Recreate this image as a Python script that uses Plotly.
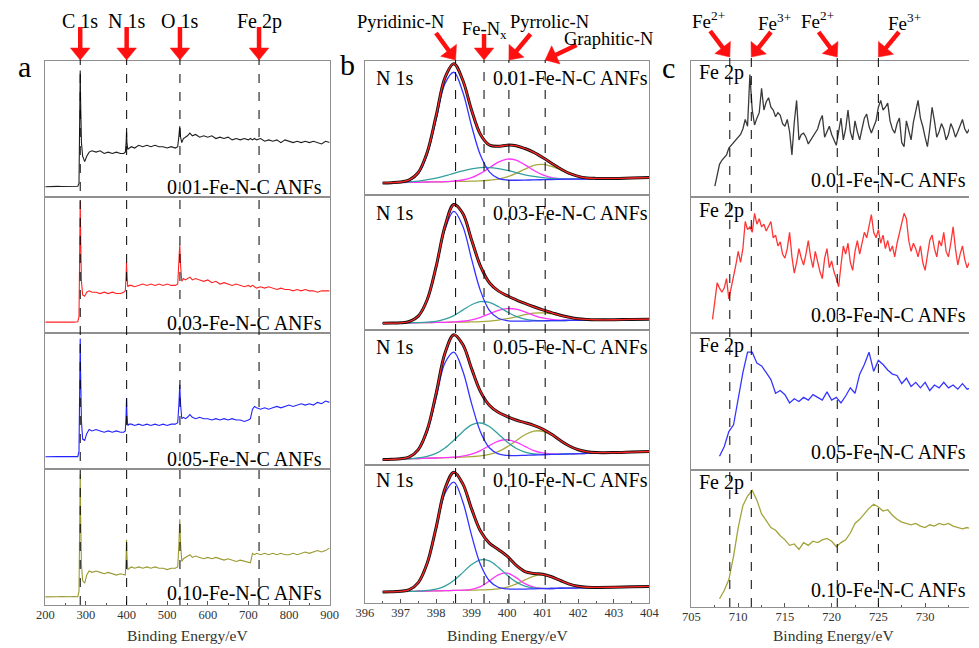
import math
import plotly.graph_objects as go

W, H = 979, 648
SERIF = "Liberation Serif, Times New Roman, serif"

# ---------------- survey spectra (panel a) ----------------
survey_be = [200, 210, 220, 230, 240, 250, 260, 270, 280,
             283, 285, 286, 287, 289, 292, 297, 302, 308, 315,
             325, 335, 345, 355, 365, 375, 385, 393, 397,
             399, 400, 401, 403, 407, 412, 420, 430, 440, 450, 460, 470, 480, 490, 500, 510, 520, 526, 529,
             531, 533, 536, 540, 545, 550, 556, 562, 570, 580, 590, 600,
             610, 620, 630, 640, 650, 660, 670, 680, 690, 700,
             705, 710, 715, 720, 730, 740, 750, 760, 770, 780, 790, 800,
             810, 820, 830, 840, 850, 860, 870, 880, 890, 900]
survey_001 = [.075, .077, .076, .078, .077, .078, .076, .078, .079,
              .10, .50, .93, .70, .40, .30, .26, .30, .33, .34,
              .33, .34, .32, .33, .32, .33, .32, .32, .33,
              .40, .48, .40, .35, .36, .37, .36, .38, .37, .38, .37, .38, .37, .37, .36, .37, .36, .37, .45,
              .52, .44, .40, .43, .44, .45, .47, .45, .46, .44, .45, .44,
              .45, .43, .44, .43, .44, .42, .43, .42, .43, .42,
              .43, .42, .43, .42, .43, .41, .42, .41, .42, .40, .42, .41,
              .40, .41, .40, .41, .40, .41, .40, .39, .41, .40]
survey_003 = [.080, .082, .080, .081, .080, .082, .081, .080, .082,
              .12, .55, .97, .72, .38, .28, .27, .30, .31, .30,
              .30, .29, .30, .29, .30, .29, .29, .30, .31,
              .42, .52, .42, .34, .35, .35, .34, .35, .36, .35, .36, .35, .36, .35, .36, .35, .35, .36, .50,
              .65, .50, .38, .40, .39, .40, .41, .39, .40, .39, .38, .39,
              .37, .38, .36, .37, .36, .35, .36, .35, .34, .35,
              .34, .35, .34, .33, .34, .33, .34, .33, .32, .33, .32, .32,
              .31, .32, .31, .32, .31, .31, .30, .31, .31, .31]
survey_005 = [.090, .092, .090, .091, .092, .090, .091, .092, .091,
              .13, .55, .96, .70, .35, .22, .21, .26, .29, .28,
              .29, .28, .27, .28, .27, .28, .27, .27, .28,
              .40, .52, .40, .32, .33, .33, .32, .33, .32, .33, .32, .33, .32, .33, .32, .33, .33, .34, .48,
              .62, .48, .37, .38, .37, .38, .40, .38, .37, .38, .37, .37,
              .36, .37, .36, .37, .36, .37, .36, .36, .35, .36,
              .37, .44, .46, .45, .44, .45, .44, .45, .46, .45, .46, .47,
              .46, .47, .48, .47, .48, .47, .49, .48, .50, .49]
survey_010 = [.060, .062, .060, .061, .062, .060, .061, .062, .061,
              .10, .55, .96, .65, .30, .18, .16, .22, .25, .24,
              .25, .24, .23, .24, .23, .22, .23, .22, .22,
              .36, .48, .36, .26, .27, .28, .27, .28, .27, .28, .27, .28, .27, .27, .26, .27, .27, .28, .45,
              .63, .45, .32, .34, .35, .36, .37, .35, .36, .35, .34, .35,
              .34, .35, .34, .33, .34, .33, .32, .33, .32, .31,
              .31, .38, .37, .38, .37, .38, .37, .38, .37, .38, .37, .37,
              .38, .37, .38, .39, .38, .39, .40, .39, .40, .42]
survey_peak_names = ["C 1s", "N 1s", "O 1s", "Fe 2p"]
survey_peak_be = [286.0, 400.3, 531.5, 726.2]

# ---------------- N 1s fits (panel b): background + net component heights ----------------
n1s_be = [396.5, 396.75, 397.0, 397.25, 397.5, 397.75, 398.0, 398.25, 398.5, 398.75, 399.0, 399.25,
          399.5, 399.75, 400.0, 400.25, 400.5, 400.75, 401.0, 401.25, 401.5, 401.75, 402.0, 402.25,
          402.5, 403.0, 403.5, 404.0]

n1s_bg_001 = [.090, .091, .093, .094, .095, .097, .098, .099, .101, .102, .103, .105, .106, .107, .109, .110,
              .111, .113, .114, .115, .117, .118, .119, .120, .122, .124, .127, .130]
n1s_pyridinic_001 = [0, 0, .002, .014, .064, .204, .462, .732, .815, .668, .412, .191, .067, .017, .003,
                     0, 0, 0, 0, 0, 0, 0, 0, 0, 0, 0, 0, 0]
n1s_fenx_001 = [0, .001, .002, .005, .009, .017, .028, .043, .061, .078, .092, .099, .099, .090, .075, .057,
                .040, .026, .015, .008, .004, .002, .001, 0, 0, 0, 0, 0]
n1s_pyrrolic_001 = [0, 0, 0, 0, 0, 0, 0, .001, .003, .010, .026, .056, .097, .138, .159, .150, .114, .071,
                    .036, .015, .005, .001, 0, 0, 0, 0, 0, 0]
n1s_graphitic_001 = [0, 0, 0, 0, 0, 0, 0, 0, 0, 0, 0, .001, .004, .011, .026, .051, .082, .108, .115, .099,
                     .070, .040, .019, .007, .002, 0, 0, 0]

n1s_bg_003 = [.050, .051, .052, .053, .054, .055, .056, .057, .058, .059, .060, .061, .062, .063, .064, .065,
              .066, .067, .068, .069, .070, .071, .072, .073, .074, .076, .078, .080]
n1s_pyridinic_003 = [0, 0, .001, .010, .048, .166, .403, .687, .820, .712, .465, .229, .084, .024, .005, .001,
                     0, 0, 0, 0, 0, 0, 0, 0, 0, 0, 0, 0]
n1s_fenx_003 = [0, 0, 0, 0, .001, .003, .008, .023, .049, .088, .127, .149, .142, .111, .070, .036, .015, .005,
                .001, 0, 0, 0, 0, 0, 0, 0, 0, 0]
n1s_pyrrolic_003 = [0, 0, 0, 0, 0, 0, 0, 0, .002, .006, .015, .033, .058, .082, .095, .089, .068, .042, .021,
                    .009, .003, .001, 0, 0, 0, 0, 0, 0]
n1s_graphitic_003 = [0, 0, 0, 0, 0, 0, 0, 0, 0, 0, 0, .001, .004, .010, .020, .033, .048, .058, .059, .051,
                     .036, .022, .011, .005, .002, 0, 0, 0]

n1s_bg_005 = [.040, .042, .044, .046, .048, .050, .052, .054, .056, .058, .060, .062, .064, .066, .068, .070,
              .072, .074, .076, .078, .080, .082, .084, .086, .088, .092, .096, .100]
n1s_pyridinic_005 = [0, 0, .002, .013, .061, .195, .442, .701, .780, .640, .395, .183, .064, .016, .003,
                     0, 0, 0, 0, 0, 0, 0, 0, 0, 0, 0, 0, 0]
n1s_fenx_005 = [0, 0, 0, .001, .005, .014, .034, .072, .127, .189, .237, .249, .221, .164, .103, .054, .024,
                .009, .003, .001, 0, 0, 0, 0, 0, 0, 0, 0]
n1s_pyrrolic_005 = [0, 0, 0, 0, 0, 0, 0, 0, .002, .007, .020, .045, .080, .111, .119, .100, .066, .033, .013,
                    .004, .001, 0, 0, 0, 0, 0, 0, 0]
n1s_graphitic_005 = [0, 0, 0, 0, 0, 0, 0, 0, 0, 0, .002, .005, .014, .033, .066, .109, .152, .177, .174, .144,
                     .100, .059, .029, .012, .004, 0, 0, 0]

n1s_bg_010 = [.080, .081, .083, .084, .085, .087, .088, .089, .091, .092, .093, .095, .096, .097, .099, .100,
              .101, .103, .104, .105, .107, .108, .109, .110, .112, .114, .117, .120]
n1s_pyridinic_010 = [0, 0, .002, .013, .062, .197, .445, .705, .785, .644, .397, .184, .065, .017, .003,
                     0, 0, 0, 0, 0, 0, 0, 0, 0, 0, 0, 0, 0]
n1s_fenx_010 = [0, 0, 0, 0, .001, .004, .012, .033, .072, .128, .186, .218, .209, .162, .103, .053, .022, .007,
                .002, 0, 0, 0, 0, 0, 0, 0, 0, 0]
n1s_pyrrolic_010 = [0, 0, 0, 0, 0, 0, 0, 0, 0, .001, .006, .024, .063, .107, .118, .084, .039, .012, .002,
                    0, 0, 0, 0, 0, 0, 0, 0, 0]
n1s_graphitic_010 = [0, 0, 0, 0, 0, 0, 0, 0, 0, 0, 0, 0, .001, .005, .016, .037, .066, .092, .100, .085,
                     .056, .029, .012, .004, .001, 0, 0, 0]

n1s_species = ["Pyridinic-N", "Fe-N<sub>x</sub>", "Pyrrolic-N", "Graphitic-N"]
n1s_species_be = [398.55, 399.35, 400.05, 401.07]

# ---------------- Fe 2p spectra (panel c) ----------------
fe2p_start_001, fe2p_step_001 = 707.5, 0.25
fe2p_001 = [.08, .16,
            .24, .27, .29, .31, .36, .38, .40, .42, .44, .46, .50, .57, .52, .90, .64, .53,
            .58, .62, .80, .64, .70, .73, .66, .64, .59, .62, .60, .54, .52, .57, .48, .31,
            .55, .71, .42, .46, .47, .44, .39, .42, .44, .47, .50, .56, .60, .44, .48, .52,
            .46, .42, .38, .48, .58, .42, .50, .64, .48, .42, .56, .48, .42, .50, .58, .61,
            .52, .47, .52, .56, .66, .71, .64, .66, .69, .56, .50, .47, .54, .58, .40, .37,
            .56, .50, .42, .55, .64, .71, .58, .52, .44, .37, .50, .66, .56, .44, .48, .54,
            .50, .42, .46, .54, .50, .44, .48, .52, .57, .50, .47, .50,
            .52]
fe2p_start_003, fe2p_step_003 = 707.25, 0.25
fe2p_003 = [.10, .22, .37,
            .33, .30, .33, .40, .25, .33, .42, .50, .60, .52, .62, .82, .76, .78, .74, .88,
            .80, .84, .78, .80, .75, .78, .82, .70, .72, .64, .67, .58, .55, .62, .74, .56,
            .44, .52, .62, .55, .50, .58, .68, .56, .48, .60, .52, .45, .40, .55, .62, .48,
            .53, .45, .40, .34, .50, .64, .58, .66, .52, .46, .60, .68, .58, .66, .74, .70,
            .80, .87, .74, .70, .76, .66, .72, .62, .68, .60, .64, .56, .66, .74, .80, .88,
            .84, .68, .60, .66, .62, .56, .64, .52, .46, .58, .68, .72, .62, .56, .68, .64,
            .74, .60, .56, .66, .78, .62, .50, .58, .64, .54, .48, .52,
            .56]
fe2p_start_005, fe2p_step_005 = 708.0, 0.5
fe2p_005 = [.10, .17, .28, .33, .52, .71, .86, .86, .78, .76, .71, .66, .56, .58, .55, .49, .52, .50,
            .53, .51, .55, .53, .51, .57, .51, .53, .49, .54, .60, .56, .70, .77, .86, .72, .80, .77,
            .73, .70, .69, .63, .67, .61, .64, .60, .64, .58, .62, .60, .64, .60, .62, .59, .63, .59, .60]
fe2p_start_010, fe2p_step_010 = 708.0, 0.5
fe2p_010 = [.06, .12, .20, .37, .58, .74, .81, .85, .78, .68, .63, .58, .56, .52, .49, .45, .46, .42,
            .47, .45, .48, .47, .49, .50, .48, .44, .47, .49, .54, .61, .64, .68, .72, .75, .73, .70,
            .71, .67, .64, .62, .61, .60, .61, .59, .58, .60, .59, .61, .60, .61, .59, .58, .57, .58, .57]
fe_states = ["Fe<sup>2+</sup>", "Fe<sup>3+</sup>", "Fe<sup>2+</sup>", "Fe<sup>3+</sup>"]
fe_states_be = [709.1, 711.4, 720.6, 725.0]

samples = ["0.01-Fe-N-C ANFs", "0.03-Fe-N-C ANFs", "0.05-Fe-N-C ANFs", "0.10-Fe-N-C ANFs"]

# ---------------- styling ----------------
survey_colors = ["#1e1e1e", "#ff2222", "#2222ff", "#999930"]
fe_colors = ["#3a3a3a", "#ff3535", "#3535ff", "#a3a33c"]
C_PYRI, C_FENX, C_PYRR, C_GRAPH = "#3333ff", "#33a0a0", "#ff33ff", "#a8a840"
C_FIT, C_EXP = "#ff2424", "#111111"
FRAME = "#8f8f8f"
ARROW = "#ff1010"

cols = [
    dict(x=(37, 327), rows=[(61, 197), (197, 333), (333, 469), (469, 605)], rng=[200, 900], dtick=100, minor=50),
    dict(x=(363, 653), rows=[(61, 195), (195, 330), (330, 465), (465, 603)], rng=[396, 404], dtick=1, minor=0.5),
    dict(x=(696, 979), rows=[(61, 197), (197, 333), (333, 470), (470, 607)], rng=[705, 734.7], dtick=5, minor=2.5),
]


def px(x):
    return x / W


def py(y):
    return 1 - y / H


def col_px(c, be):
    col = cols[c]
    (a, b), (r0, r1) = col["x"], col["rng"]
    return a + (be - r0) / (r1 - r0) * (b - a)


fig = go.Figure()
layout = dict(width=W, height=H, margin=dict(l=0, r=0, t=0, b=0), showlegend=False,
              paper_bgcolor="white", plot_bgcolor="white")

for c, col in enumerate(cols):
    for r, (yt, yb) in enumerate(col["rows"]):
        k = c * 4 + r + 1
        bottom = (r == 3)
        xa = dict(domain=[px(col["x"][0]), min(px(col["x"][1]), 1.0)], range=col["rng"], anchor=f"y{k}",
                  showline=True, mirror=True, linecolor=FRAME, linewidth=1.2, showgrid=False, zeroline=False,
                  showticklabels=bottom, ticks="inside" if bottom else "", ticklen=4, tickcolor="#555",
                  dtick=col["dtick"], tick0=col["rng"][0],
                  tickfont=dict(family=SERIF, size=12.5, color="#333"))
        if bottom:
            xa["minor"] = dict(ticks="inside", ticklen=2, dtick=col["minor"], tickcolor="#555")
            xa["ticklabelstandoff"] = -2
        ya = dict(domain=[py(yb), py(yt)], range=[0, 1], anchor=f"x{k}", showline=True,
                  mirror=(c != 2), linecolor=FRAME, linewidth=1.2, showgrid=False, zeroline=False,
                  showticklabels=False, ticks="")
        layout["xaxis" if k == 1 else f"xaxis{k}"] = xa
        layout["yaxis" if k == 1 else f"yaxis{k}"] = ya


def ax_names(c, r):
    k = c * 4 + r + 1
    return ("x", "y") if k == 1 else (f"x{k}", f"y{k}")


def add_line(x, y, c, r, color, width, shape="linear"):
    xn, yn = ax_names(c, r)
    fig.add_trace(go.Scatter(x=x, y=y, xaxis=xn, yaxis=yn, mode="lines", hoverinfo="skip",
                             line=dict(color=color, width=width, shape=shape)))


# panel a
for r, ys in enumerate([survey_001, survey_003, survey_005, survey_010]):
    add_line(survey_be, ys, 0, r, survey_colors[r], 1.1)

# panel b
n1s_sets = [
    (n1s_bg_001, n1s_pyridinic_001, n1s_fenx_001, n1s_pyrrolic_001, n1s_graphitic_001),
    (n1s_bg_003, n1s_pyridinic_003, n1s_fenx_003, n1s_pyrrolic_003, n1s_graphitic_003),
    (n1s_bg_005, n1s_pyridinic_005, n1s_fenx_005, n1s_pyrrolic_005, n1s_graphitic_005),
    (n1s_bg_010, n1s_pyridinic_010, n1s_fenx_010, n1s_pyrrolic_010, n1s_graphitic_010),
]
for r, (bg, pyri, fenx, pyrr, graph) in enumerate(n1s_sets):
    for comp, colr in [(graph, C_GRAPH), (pyrr, C_PYRR), (fenx, C_FENX), (pyri, C_PYRI)]:
        add_line(n1s_be, [b + v for b, v in zip(bg, comp)], 1, r, colr, 1.3, "spline")
    env = [b + a + f + p + g for b, a, f, p, g in zip(bg, pyri, fenx, pyrr, graph)]
    add_line(n1s_be, env, 1, r, C_EXP, 3.0, "spline")
    add_line(n1s_be, env, 1, r, C_FIT, 1.3, "spline")

# panel c
fe_sets = [(fe2p_start_001, fe2p_step_001, fe2p_001), (fe2p_start_003, fe2p_step_003, fe2p_003),
           (fe2p_start_005, fe2p_step_005, fe2p_005), (fe2p_start_010, fe2p_step_010, fe2p_010)]
for r, (s0, st, ys) in enumerate(fe_sets):
    xs = [s0 + st * i for i in range(len(ys))]
    add_line(xs, ys, 2, r, fe_colors[r], 1.3)

# dashed guide lines
shapes = []
for c, (bes, top) in enumerate([(survey_peak_be, 59), (n1s_species_be, 60), (fe_states_be, 57)]):
    xn, _ = ax_names(c, 3)
    bot = cols[c]["rows"][3][1]
    for be in bes:
        shapes.append(dict(type="line", xref=xn, yref="paper", x0=be, x1=be, y0=py(bot), y1=py(top),
                           line=dict(color="black", width=1, dash="dash")))


def arrow_shape(tipx, tipy, dx, dy, head_len=12, half_w=10, shaft=4.5):
    """Red block arrow: tail at tip + (dx, dy) px, drawn as a line and a filled triangle."""
    tailx, taily = tipx + dx, tipy + dy
    L = math.hypot(dx, dy)
    ux, uy = -dx / L, -dy / L
    bx, by = tipx - ux * head_len, tipy - uy * head_len
    nx, ny = -uy, ux
    shapes.append(dict(type="line", xref="paper", yref="paper", x0=px(tailx), y0=py(taily),
                       x1=px(bx + ux * 2), y1=py(by + uy * 2), line=dict(color=ARROW, width=shaft)))
    path = (f"M {px(tipx)} {py(tipy)} L {px(bx + nx * half_w)} {py(by + ny * half_w)} "
            f"L {px(bx - nx * half_w)} {py(by - ny * half_w)} Z")
    shapes.append(dict(type="path", xref="paper", yref="paper", path=path, fillcolor=ARROW,
                       line=dict(color=ARROW, width=0.5)))


for be in survey_peak_be:
    arrow_shape(col_px(0, be), 60, 0, -33)
for be, (dx, dy) in zip(n1s_species_be, [(-20, -27), (0, -26), (22, -26), (32, -15)]):
    arrow_shape(col_px(1, be), 60, dx, dy)
for be, (dx, dy) in zip(fe_states_be, [(-20, -26), (20, -25), (-19, -25), (21, -25)]):
    arrow_shape(col_px(2, be), 57, dx, dy)
layout["shapes"] = shapes

ann = []


def text(x, y, s, size=20, xanchor="center", xref="paper", color="black"):
    ann.append(dict(x=x, y=y, xref=xref, yref="paper", text=s, showarrow=False, xanchor=xanchor,
                    yanchor="middle", font=dict(family=SERIF, size=size, color=color)))


# panel letters
text(px(16), py(66), "a", size=30)
text(px(345), py(64), "b", size=30)
text(px(673), py(67), "c", size=30)

# panel a top labels
for name, be in zip(survey_peak_names, survey_peak_be):
    text(be, py(21), name, size=20, xref="x4")

# panel b species labels
for name, (tx, ty) in zip(n1s_species, [(399, 22), (485, 31), (551, 22), (611, 39)]):
    text(px(tx), py(ty), name, size=18.5)

# panel c state labels
for name, (tx, ty) in zip(fe_states, [(713, 20), (781, 22), (825, 20), (913, 22)]):
    text(px(tx), py(ty), name, size=19)

# sample labels
for r, s in enumerate(samples):
    text(px(321), py([187, 323, 459, 593][r]), s, size=20, xanchor="right")
    text(px(372), py([78, 213, 347, 480][r]), "N 1s", size=20, xanchor="left")
    text(px(492), py([78, 213, 347, 480][r]), s, size=20, xanchor="left")
    text(px(702), py([72, 210, 345, 482][r]), "Fe 2p", size=20, xanchor="left")
    text(px(978), py([180, 315, 452, 590][r]), s, size=20, xanchor="right")

# axis titles
for cx in [182, 508, 841]:
    text(px(cx), py(635), "Binding Energy/eV", size=15.5, color="#333")

layout["annotations"] = ann
fig.update_layout(**layout)
fig.write_html("out.html", config={"displayModeBar": False},
               post_script="document.body.style.margin='0px';document.body.style.overflow='hidden';")
